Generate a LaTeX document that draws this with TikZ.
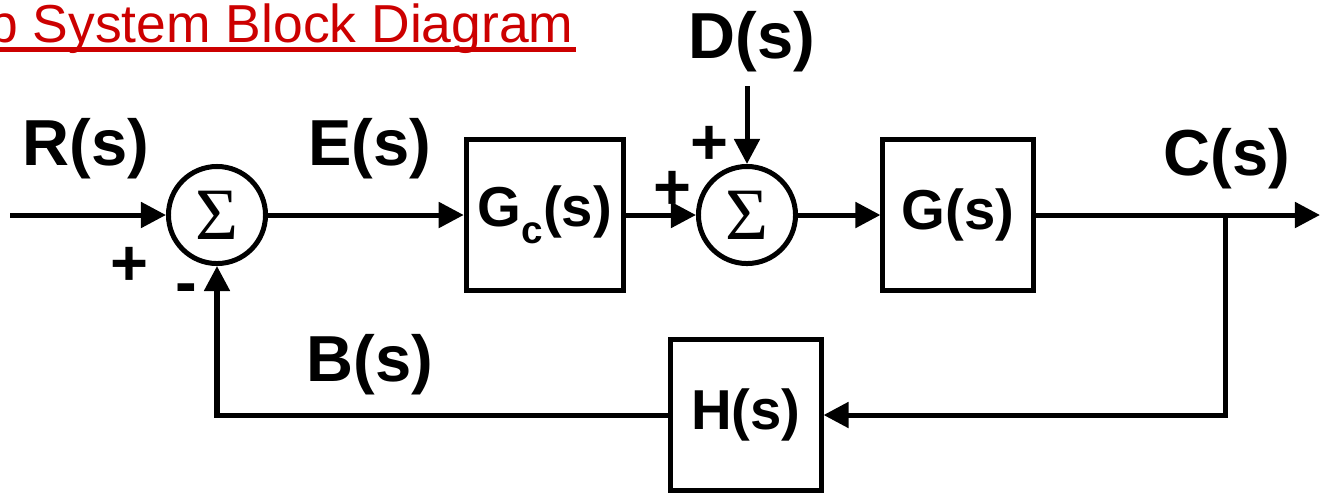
\documentclass[tikz,border=0pt]{standalone}
\usepackage{fontspec}
\setmainfont{Liberation Sans}
\newfontfamily\sigmafont{Liberation Serif}
\usetikzlibrary{arrows.meta}
\definecolor{titlered}{RGB}{204,0,0}

\begin{document}
\begin{tikzpicture}[x=0.01cm, y=-0.01cm, line width=0.05cm,
  >={Triangle[length=0.25cm,width=0.25cm]},
  block/.style={draw, minimum width=1.5cm, minimum height=1.5cm,
    font={\fontsize{16}{16}\bfseries\selectfont}},
  sumnode/.style={draw, circle, minimum size=0.97cm, inner sep=0pt,
    font={\fontsize{21}{21}\sigmafont}},
  sig/.style={font={\fontsize{18.5}{18.5}\bfseries\selectfont}, inner sep=0pt}]

\useasboundingbox (0,0) rectangle (1320,493);
\clip (0,0) rectangle (1320,493);

% title, cut off at the left edge
\node [anchor=base east, inner sep=0pt, text=titlered,
font={\fontsize{15.2}{15.2}\selectfont}] (title) at (576,42) {p System Block Diagram};
\draw [titlered, line width=0.045cm] ([yshift=-0.075cm]title.base west) -- ([yshift=-0.075cm]title.base east);

% blocks and summing points
\node [sumnode] (sum1) at (217,215) {Σ};
\node [block] (gc) at (545,215) {G\raisebox{-0.3em}{\fontsize{11}{11}\bfseries\selectfont c}(s)};
\node [sumnode] (sum2) at (747,215) {Σ};
\node [block] (g) at (958,215) {G(s)};
\node [block] (hs) at (746,415) {H(s)};

\coordinate (rin) at (10,215);
\coordinate (cout) at (1320,215);
\coordinate (tap) at (1225,215);
\coordinate (dtop) at (747,86);

% signal labels
\node [sig] (rlabel) at (86,149) {R(s)};
\node [sig] (elabel) at (370,149) {E(s)};
\node [sig] (dlabel) at (752,42) {D(s)};
\node [sig] (clabel) at (1227,159) {C(s)};
\node [sig] (blabel) at (370,365) {B(s)};

% signs
\node [sig] (p1) at (129,266) {+};
\node [sig] (m1) at (186,294) {-};
\node [sig] (p2) at (672,190) {+};
\node [sig] (p3) at (709,145) {+};

% connections
\draw [->] (rin) -- (sum1.west);
\draw [->] (sum1.east) -- (gc.west);
\draw [->] (gc.east) -- (sum2.west);
\draw [->] (dtop) -- (sum2.north);
\draw [->] (sum2.east) -- (g.west);
\draw [->] (g.east) -- (cout);
\draw [->] (tap) |- (hs.east);
\draw [->] (hs.west) -| (sum1.south);

\end{tikzpicture}
\end{document}
